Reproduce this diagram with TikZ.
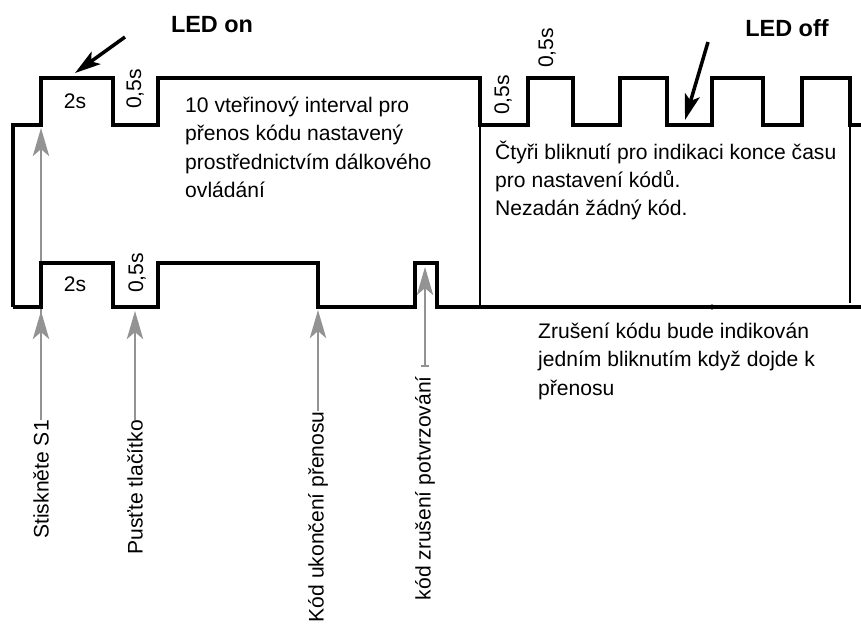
\documentclass[tikz,border=0pt]{standalone}
\usepackage{fontspec}
\setmainfont{Liberation Sans}
\usetikzlibrary{arrows.meta}
\tikzset{
  wave/.style={line width=3.2pt, line join=miter},
  hint/.style={draw=gray!85, line width=1.8pt, -{Stealth[length=24pt,width=14pt,inset=6pt]}},
  pointer/.style={line width=3pt, -{Stealth[length=22pt,width=13pt,inset=5pt]}},
  txt/.style={inner sep=0pt, font=\fontsize{18}{24}\selectfont},
  para/.style={txt, align=left, anchor=north west},
  head/.style={inner sep=0pt, font=\fontsize{20}{24}\selectfont\bfseries}
}
\begin{document}
\begin{tikzpicture}[x=0.03cm,y=-0.03cm]
\useasboundingbox (0,0) rectangle (861,630);
% labels at the bottom
\node[txt,rotate=90,anchor=east] (stisk) at (41,420) {Stiskněte S1};
\node[txt,rotate=90,anchor=east] (pust) at (135,420) {Pusťte tlačítko};
\node[txt,rotate=90,anchor=east] (konec) at (318,411) {Kód ukončení přenosu};
\node[txt,rotate=90,anchor=east] (zrus) at (425,376) {kód zrušení potvrzování};
\coordinate (stiskdole) at (41,311);
\coordinate (stiskhore) at (41,128);
\coordinate (pustdole) at (135,311);
\coordinate (konecdole) at (318,310);
\coordinate (zrusdole) at (425,267);
\draw[hint] (stisk.east) -- (stiskdole);
\draw[hint] (stisk.east) -- (stiskhore);
\draw[hint] (pust.east) -- (pustdole);
\draw[hint] (konec.east) -- (konecdole);
\draw[hint, line width=1.1pt, shorten <=8pt, {Bar[width=7pt]}-{Stealth[length=24pt,width=14pt,inset=6pt]}] (zrus.east) -- (zrusdole);
% LED waveform
\draw[wave] (13,307) -- (13,125) -- (41,125) -- (41,78) -- (113,78) -- (113,125)
  -- (158,125) -- (158,78) -- (480,78) -- (480,125) -- (528,125) -- (528,78)
  -- (573,78) -- (573,125) -- (620,125) -- (620,78) -- (667,78) -- (667,125)
  -- (712,125) -- (712,78) -- (763,78) -- (763,125) -- (802,125) -- (802,78)
  -- (850,78) -- (850,125) -- (861,125);
% transmitter waveform
\draw[wave] (13,307) -- (41,307) -- (41,263) -- (113,263) -- (113,307)
  -- (158,307) -- (158,263) -- (318,263) -- (318,307) -- (415,307)
  -- (415,263) -- (437,263) -- (437,307) -- (861,307);
\draw[line width=2pt] (480,125) -- (480,307);
\draw[line width=1.2pt] (850,125) -- (850,303);
\fill (712,307) circle (2.2pt);
% durations
\node[txt] (dvahore) at (75,101) {2s};
\node[txt,rotate=90] (pulhore) at (135,89) {0,5s};
\node[txt,rotate=90] (pulblik) at (503,95) {0,5s};
\node[txt,rotate=90] (pulblikb) at (547,48) {0,5s};
\node[txt] (dvadole) at (75,284) {2s};
\node[txt,rotate=90] (puldole) at (137,273) {0,5s};
% LED arrows
\node[head] (ledon) at (212,25) {LED on};
\node[head] (ledoff) at (787,28) {LED off};
\coordinate (onzac) at (125,37);
\coordinate (onhrot) at (75,73);
\coordinate (offzac) at (708,42);
\coordinate (offhrot) at (685,120);
\draw[pointer] (onzac) -- (onhrot);
\draw[pointer] (offzac) -- (offhrot);
% descriptions
\node[para] (interval) at (185,97) {10 vteřinový interval pro\\přenos kódu nastavený\\prostřednictvím dálkového\\ovládání};
\node[para] (ctyri) at (495,141) {Čtyři bliknutí pro indikaci konce času\\pro nastavení kódů.\\Nezadán žádný kód.};
\node[para] (zruseni) at (538,323) {Zrušení kódu bude indikován\\jedním bliknutím když dojde k\\přenosu};
\end{tikzpicture}
\end{document}
